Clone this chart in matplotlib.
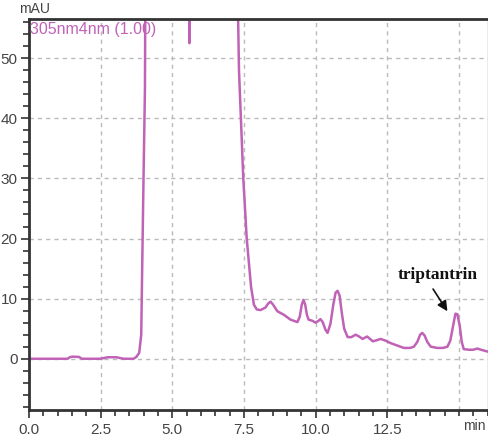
import numpy as np
import matplotlib
matplotlib.use('Agg')
import matplotlib.pyplot as plt
from matplotlib.ticker import MultipleLocator

plt.rcParams['font.family'] = ['Liberation Sans', 'DejaVu Sans']

# retention time (min) and absorbance (mAU)
time_min = [0.0, 1.35, 1.45, 1.55, 1.75, 1.85, 2.5, 2.65, 2.75, 3.05, 3.15, 3.3, 3.65, 3.75, 3.85, 3.92,
            3.95, 4.0, 4.05, 4.08,
            5.57, 5.6, 5.63, 7.28, 7.3, 7.33, 7.48, 7.6, 7.75, 7.85, 7.95, 8.08, 8.25, 8.35, 8.43, 8.52,
            8.67, 8.9, 9.13, 9.37, 9.45, 9.52, 9.58, 9.64, 9.7, 9.76, 9.9, 10.0, 10.1, 10.17, 10.25,
            10.35, 10.42, 10.52, 10.62, 10.7, 10.77, 10.84, 10.92, 11.0, 11.12, 11.25, 11.4, 11.52,
            11.64, 11.8, 12.0, 12.15, 12.27, 12.45, 12.62, 12.85, 13.08, 13.3, 13.43, 13.55, 13.65,
            13.72, 13.8, 13.9, 14.02, 14.25, 14.44, 14.6, 14.7, 14.8, 14.88, 14.95, 15.03, 15.1, 15.17,
            15.35, 15.5, 15.65, 15.77, 16.0]
absorb_mau = [0.0, 0.0, 0.3, 0.35, 0.3, 0.0, 0.0, 0.15, 0.25, 0.25, 0.15, 0.0, 0.0, 0.3, 1.0, 4.0,
              14.0, 30.0, 45.0, 80.0,
              80.0, 52.5, 80.0, 80.0, 56.5, 48.0, 30.0, 20.0, 12.0, 9.0, 8.2, 8.1, 8.5, 9.2, 9.5, 9.0,
              7.9, 7.3, 6.5, 6.1, 7.0, 9.0, 9.8, 9.0, 7.3, 6.5, 6.3, 6.0, 6.3, 6.6, 6.1,
              4.8, 4.3, 5.8, 9.0, 11.0, 11.3, 10.5, 7.5, 5.0, 3.6, 3.6, 4.0, 3.7,
              3.3, 3.7, 2.9, 3.1, 3.3, 3.0, 2.6, 2.2, 1.8, 1.8, 2.0, 2.8, 4.0,
              4.3, 3.9, 2.8, 2.0, 1.8, 1.8, 2.0, 3.0, 5.5, 7.5, 7.4, 5.5, 2.8, 1.6,
              1.5, 1.5, 1.7, 1.5, 1.2]

x_ticks = [0.0, 2.5, 5.0, 7.5, 10.0, 12.5]
x_labels = ['0.0', '2.5', '5.0', '7.5', '10.0', '12.5']
y_ticks = [0, 10, 20, 30, 40, 50]

fig = plt.figure(figsize=(4.89, 4.45), dpi=100)
ax = fig.add_axes([0.059, 0.079, 0.938, 0.878])

ax.plot(time_min, absorb_mau, color='#c062b6', lw=1.8, clip_on=True, solid_joinstyle='round')

ax.set_xlim(0, 16.0)
ax.set_ylim(-8.5, 56.5)

# dashed grid
for gx in [2.5, 5.0, 7.5, 10.0, 12.5, 15.0]:
    ax.axvline(gx, color='#bbbbbb', lw=1, ls=(0, (3, 3)), zorder=0)
for gy in y_ticks:
    ax.axhline(gy, color='#bbbbbb', lw=1, ls=(0, (3, 3)), zorder=0)

ax.set_xticks(x_ticks)
ax.set_xticklabels(x_labels)
ax.set_yticks(y_ticks)
ax.xaxis.set_minor_locator(MultipleLocator(0.5))
ax.yaxis.set_minor_locator(MultipleLocator(2))
ax.tick_params(which='major', direction='out', length=6, width=1.2, colors='#333333',
               labelsize=11, labelcolor='#444444')
ax.tick_params(which='minor', direction='out', length=4, width=1.2, colors='#333333')
ax.tick_params(axis='x', which='both', top=False)
ax.tick_params(axis='y', which='both', right=False, pad=2)

for s in ['left', 'top', 'bottom']:
    ax.spines[s].set_color('#333333')
    ax.spines[s].set_linewidth(2)
ax.spines['right'].set_color('#999999')
ax.spines['right'].set_linewidth(1)

ax.text(-0.35, 57.0, 'mAU', fontsize=10, color='#444444', ha='left', va='bottom')
ax.text(0.05, 54.8, '305nm4nm (1.00)', fontsize=11.5, color='#c062b6', ha='left', va='center')
ax.text(15.15, -10.0, 'min', fontsize=10, color='#444444', ha='left', va='top')

ax.text(14.27, 13.9, 'triptantrin', fontsize=12.5, fontweight='bold', family='Liberation Serif',
        color='#111111', ha='center', va='center')
ax.annotate('', xy=(14.6, 7.9), xytext=(14.1, 11.6),
            arrowprops=dict(arrowstyle='-|>,head_length=0.6,head_width=0.3', color='#111111',
                            lw=1.2, shrinkA=0, shrinkB=0))

fig.savefig('out.png', dpi=100)
